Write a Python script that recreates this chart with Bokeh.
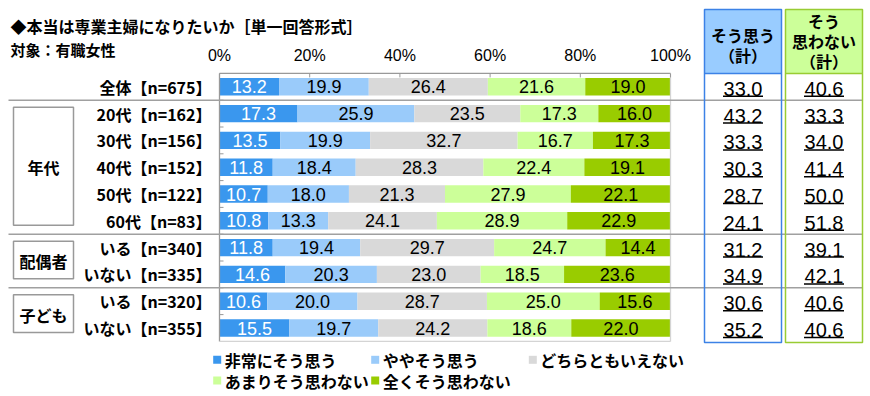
from bokeh.plotting import figure
from bokeh.models import Range1d, ColumnDataSource
from bokeh.core.properties import value
from bokeh.embed import file_html
from bokeh.resources import INLINE

# ---------------- data ----------------
title_text = "◆本当は専業主婦になりたいか［単一回答形式］"
subtitle_text = "対象：有職女性"

categories = ["全体【n=675】", "20代【n=162】", "30代【n=156】", "40代【n=152】",
              "50代【n=122】", "60代【n=83】", "いる【n=340】", "いない【n=335】",
              "いる【n=320】", "いない【n=355】"]

series_names = ["非常にそう思う", "ややそう思う", "どちらともいえない",
                "あまりそう思わない", "全くそう思わない"]

very_agree = [13.2, 17.3, 13.5, 11.8, 10.7, 10.8, 11.8, 14.6, 10.6, 15.5]
somewhat_agree = [19.9, 25.9, 19.9, 18.4, 18.0, 13.3, 19.4, 20.3, 20.0, 19.7]
neutral = [26.4, 23.5, 32.7, 28.3, 21.3, 24.1, 29.7, 23.0, 28.7, 24.2]
somewhat_disagree = [21.6, 17.3, 16.7, 22.4, 27.9, 28.9, 24.7, 18.5, 25.0, 18.6]
strongly_disagree = [19.0, 16.0, 17.3, 19.1, 22.1, 22.9, 14.4, 23.6, 15.6, 22.0]

agree_total = [33.0, 43.2, 33.3, 30.3, 28.7, 24.1, 31.2, 34.9, 30.6, 35.2]
disagree_total = [40.6, 33.3, 34.0, 41.4, 50.0, 51.8, 39.1, 42.1, 40.6, 40.6]

group_names = ["年代", "配偶者", "子ども"]
group_first = [1, 6, 8]
group_last = [5, 7, 9]

tick_values = [0, 20, 40, 60, 80, 100]
tick_labels = ["0%", "20%", "40%", "60%", "80%", "100%"]

agree_header = ["そう思う", "（計）"]
disagree_header = ["そう", "思わない", "（計）"]

# ---------------- style ----------------
colors = ["#3A97EE", "#9ACBFA", "#D9D9D9", "#CCFF99", "#99CC00"]
text_colors = ["white", "black", "black", "black", "black"]
JP = value("Noto Sans CJK JP")
NUM = value("Liberation Sans")
GRAY = "#A0A0A0"
BLUE_LINE, BLUE_FILL = "#3C82E6", "#99CCFF"
GREEN_LINE, GREEN_FILL = "#99CC33", "#CCFF99"

W, H = 870, 396
OFF = 8        # layout numbers below are given as (screen px - OFF)
PX0 = 211.0    # layout px of 0 %
PXU = 4.51     # px per percent
ROW0 = 78.3    # layout px of first row centre
ROWH = 26.8    # px per row


def X(px):
    return (px - PX0) / PXU


def Y(px):
    return (px - ROW0) / ROWH


n = len(categories)
rows = list(range(n))

p = figure(width=W, height=H, output_backend="svg", toolbar_location=None,
           x_range=Range1d(X(-OFF), X(W - OFF)),
           y_range=Range1d(Y(H - OFF), Y(-OFF)),
           x_axis_location=None, y_axis_location=None, min_border=0,
           outline_line_color=None, background_fill_color="white",
           border_fill_color="white")
p.xgrid.visible = False
p.ygrid.visible = False

# ---------------- right summary columns (fills) ----------------
col_blue = (696, 773)
col_green = (777, 854)
for (l, r), fill in [(col_blue, BLUE_FILL), (col_green, GREEN_FILL)]:
    p.quad(left=[X(l)], right=[X(r)], top=[Y(1)], bottom=[Y(334)],
           fill_color="white", line_color=None)
    p.quad(left=[X(l)], right=[X(r)], top=[Y(1)], bottom=[-0.5],
           fill_color=fill, line_color=None)

# ---------------- bars ----------------
series = [very_agree, somewhat_agree, neutral, somewhat_disagree, strongly_disagree]
left = [0.0] * n
for k, vals in enumerate(series):
    right = [a + b for a, b in zip(left, vals)]
    src = ColumnDataSource(dict(y=rows, left=left, right=right,
                                mid=[(a + b) / 2 for a, b in zip(left, right)],
                                lab=[f"{v:.1f}" for v in vals]))
    p.hbar(y="y", left="left", right="right", height=0.65, source=src,
           fill_color=colors[k], line_color=None)
    p.text(x="mid", y="y", text="lab", source=src, text_align="center",
           text_baseline="middle", text_color=text_colors[k], text_font=NUM,
           text_font_size="18px")
    left = right

# ---------------- frame / axis ----------------
top, bottom = -0.5, n - 0.5
p.segment(x0=[0, 0], y0=[top, top], x1=[100, 0], y1=[top, bottom],
          line_color="#999999", line_width=1.3)
p.segment(x0=[100, 0], y0=[top, bottom], x1=[100, 100], y1=[bottom, bottom],
          line_color="#D4D4D4", line_width=1.3)
p.segment(x0=tick_values, y0=[top] * len(tick_values), x1=tick_values,
          y1=[top + 4 / ROWH] * len(tick_values), line_color="#999999", line_width=1)
p.segment(x0=[0] * (n - 1), y0=[i + 0.5 for i in range(n - 1)],
          x1=[4 / PXU] * (n - 1), y1=[i + 0.5 for i in range(n - 1)],
          line_color="#999999", line_width=1)
p.text(x=tick_values, y=[Y(47)] * len(tick_values), text=tick_labels,
       text_align="center", text_baseline="middle", text_font=NUM,
       text_font_size="16px", text_color="black")

# ---------------- separators ----------------
sep_y = [0.5] + [g - 0.5 for g in group_first[1:]]
p.segment(x0=[X(0)] * len(sep_y), y0=sep_y, x1=[X(854)] * len(sep_y), y1=sep_y,
          line_color=GRAY, line_width=1.5)

# ---------------- column outlines, headers, values ----------------
for (l, r), line in [(col_blue, BLUE_LINE), (col_green, GREEN_LINE)]:
    p.quad(left=[X(l)], right=[X(r)], top=[Y(1)], bottom=[Y(334)],
           fill_color=None, line_color=line, line_width=1.5)
    p.segment(x0=[X(l)], y0=[-0.5], x1=[X(r)], y1=[-0.5], line_color=line,
              line_width=1.5)

cb = (col_blue[0] + col_blue[1]) / 2
cg = (col_green[0] + col_green[1]) / 2
p.text(x=[X(cb)] * 2, y=[Y(26), Y(46)], text=agree_header, text_align="center",
       text_baseline="middle", text_font=JP, text_font_size="16px",
       text_font_style="bold", text_color="black")
p.text(x=[X(cg)] * 3, y=[Y(12.7), Y(32.7), Y(52.7)], text=disagree_header,
       text_align="center", text_baseline="middle", text_font=JP,
       text_font_size="16px", text_font_style="bold", text_color="black")

for c, vals in [(cb, agree_total), (cg, disagree_total)]:
    p.text(x=[X(c)] * n, y=[r + 2 / ROWH for r in rows],
           text=[f"{v:.1f}" for v in vals], text_align="center",
           text_baseline="middle", text_font=NUM, text_font_size="20px",
           text_color="black")
    p.segment(x0=[X(c - 20)] * n, y0=[r + 9.5 / ROWH for r in rows],
              x1=[X(c + 20)] * n, y1=[r + 9.5 / ROWH for r in rows],
              line_color="black", line_width=1.5)

# ---------------- category labels and groups ----------------
p.text(x=[X(203)] * n, y=rows, text=categories, text_align="right",
       text_baseline="middle", text_font=JP, text_font_size="16px",
       text_font_style="bold", text_color="black")

g_top = [f - 0.5 + 7 / ROWH for f in group_first]
g_bot = [l + 0.5 - 9 / ROWH for l in group_last]
p.quad(left=[X(5)] * 3, right=[X(65)] * 3, top=g_top, bottom=g_bot,
       fill_color="white", line_color="#999999", line_width=1.5)
p.text(x=[X(35)] * 3, y=[(a + b) / 2 + 1 / ROWH for a, b in zip(g_top, g_bot)],
       text=group_names, text_align="center", text_baseline="middle",
       text_font=JP, text_font_size="16px", text_font_style="bold",
       text_color="black")

# ---------------- titles ----------------
p.text(x=[X(2)], y=[Y(17.7)], text=[title_text], text_align="left",
       text_baseline="middle", text_font=JP, text_font_size="16px",
       text_font_style="bold", text_color="black")
p.text(x=[X(2)], y=[Y(40.5)], text=[subtitle_text], text_align="left",
       text_baseline="middle", text_font=JP, text_font_size="15px",
       text_font_style="bold", text_color="black")

# ---------------- legend ----------------
leg_col_px = [208.7, 366.7, 524.3]
leg_row_px = [351.3, 372.0]
lx = [X(leg_col_px[i % 3]) for i in range(len(series_names))]
ly = [Y(leg_row_px[i // 3]) for i in range(len(series_names))]
p.scatter(x=lx, y=ly, marker="square", size=8, fill_color=colors, line_color=None)
p.text(x=[X(leg_col_px[i % 3] + 7.5) for i in range(len(series_names))], y=ly,
       text=series_names, text_align="left", text_baseline="middle",
       text_font=JP, text_font_size="16px", text_font_style="bold",
       text_color="black")

open("out.html", "w").write(file_html(p, INLINE))
